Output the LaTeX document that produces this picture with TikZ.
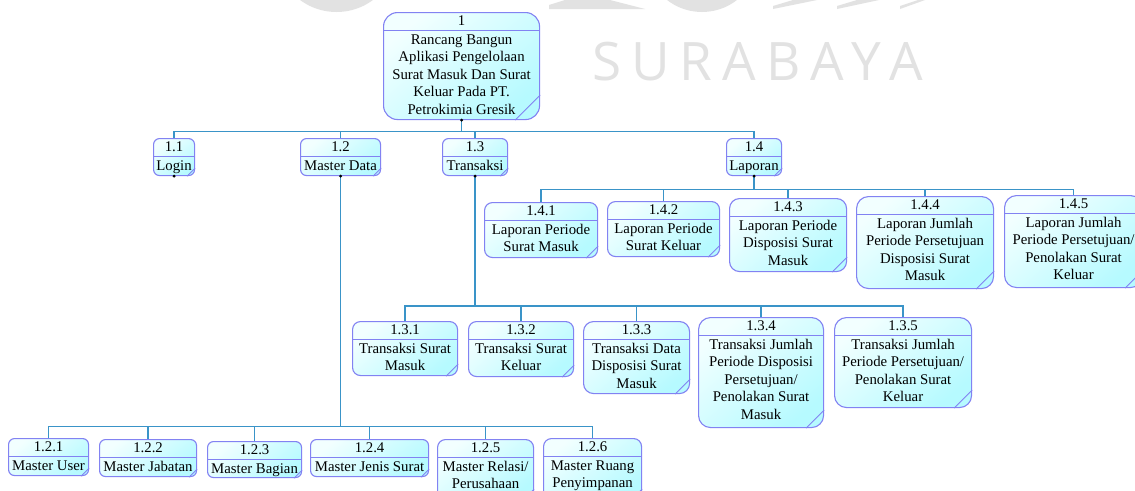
\documentclass[tikz,border=0pt]{standalone}
\usepackage{fontspec}
\setmainfont{Liberation Serif}
\newfontfamily\markfont{Open Sans}

\definecolor{boxborder}{HTML}{8282F2}
\definecolor{boxtop}{HTML}{F2FFFF}
\definecolor{boxbottom}{HTML}{B6FAFF}
\definecolor{connline}{HTML}{3A94C8}
\definecolor{markgray}{HTML}{E2E2E2}

\tikzset{
  procshape/.style={draw=boxborder, line width=1.1pt, top color=boxtop,
    bottom color=boxbottom, shading angle=40, inner sep=0pt},
  sepline/.style={draw=boxborder, line width=0.8pt},
  foldline/.style={draw=boxborder, line width=0.8pt},
  labeltext/.style={inner sep=0pt, align=center, text=black,
    font=\fontsize{14.8}{17.5}\selectfont},
  conn/.style={draw=connline, line width=1.5pt},
  joint/.style={fill=black},
  marktext/.style={text=markgray, inner sep=0pt, anchor=base,
    font=\markfont\fontsize{53}{53}\selectfont},
}

% \procbox{name}{x1}{y1}{x2}{y2}{number}{text}{fold}{radius}
% the body starts with a strut, so its top sits 12.25pt above the first baseline
\newcommand\procbox[9]{%
  \node[procshape, rounded corners=#9pt, minimum width={#4pt-#2pt},
        minimum height={#5pt-#3pt}, anchor=north west] (#1) at (#2,#3) {};
  \draw[sepline] ([yshift=-18pt]#1.north west) -- ([yshift=-18pt]#1.north east);
  \draw[foldline] ([xshift=-#8pt]#1.south east) -- ([yshift=#8pt]#1.south east);
  \node[labeltext, anchor=base] (#1-num) at ([yshift=-13.7pt]#1.north) {#6};
  \node[labeltext, anchor=north] (#1-txt) at ([yshift=-19.75pt]#1.north) {\strut #7};
}

\begin{document}
\begin{tikzpicture}[x=1pt,y=-1pt]
\useasboundingbox (0,0) rectangle (1135,490);
\clip (0,0) rectangle (1135,490);
\fill[white] (0,0) rectangle (1135,490);

% faint logo watermark along the top edge
\fill[markgray] (336.5,-49.5) circle (61.5);
\fill[markgray] (702,-45) circle (57);
\fill[markgray] (549,9) -- (549,5) -- (565,0) -- (610,0) -- (645,9) -- cycle;
\fill[markgray] (773,9) -- (773,6) -- (793,0) -- (817,0) -- cycle;
\fill[markgray] (837,9) -- (837,6) -- (857,0) -- (879,0) -- cycle;
\fill[markgray] (900,9) -- (900,6) -- (918,0) -- (925,0) -- cycle;
\foreach \ch/\cx [count=\i] in {S/607.5, U/650.5, R/696, A/739, B/784, A/827, Y/866.5, A/906.5}
  \node[marktext] (mark\i) at (\cx,80) {\ch};

% process boxes
\procbox{root}{383}{12}{539}{119}{1}{Rancang Bangun\\Aplikasi Pengelolaan\\Surat Masuk Dan Surat\\Keluar Pada PT.\\Petrokimia Gresik}{25}{14}

\procbox{p11}{153}{138}{194}{175}{1.1}{Login}{8}{6}
\procbox{p12}{300}{138}{380}{175}{1.2}{Master Data}{8}{6}
\procbox{p13}{442}{138}{507}{175}{1.3}{Transaksi}{8}{6}
\procbox{p14}{726}{138}{781}{175}{1.4}{Laporan}{8}{6}

\procbox{p141}{484}{202}{597}{257}{1.4.1}{Laporan Periode\\Surat Masuk}{12}{8}
\procbox{p142}{607}{201}{719}{256}{1.4.2}{Laporan Periode\\Surat Keluar}{12}{8}
\procbox{p143}{729}{198}{846}{271}{1.4.3}{Laporan Periode\\Disposisi Surat\\Masuk}{15}{10}
\procbox{p144}{856}{196}{993}{288}{1.4.4}{Laporan Jumlah\\Periode Persetujuan\\Disposisi Surat\\Masuk}{18}{12}
\procbox{p145}{1004}{195}{1142}{287}{1.4.5}{Laporan Jumlah\\Periode Persetujuan/\\Penolakan Surat\\Keluar}{18}{12}

\procbox{p131}{352}{321}{457}{375}{1.3.1}{Transaksi Surat\\Masuk}{12}{8}
\procbox{p132}{468}{321}{573}{376}{1.3.2}{Transaksi Surat\\Keluar}{12}{8}
\procbox{p133}{583}{321}{689}{393}{1.3.3}{Transaksi Data\\Disposisi Surat\\Masuk}{15}{10}
\procbox{p134}{698}{317}{823}{427}{1.3.4}{Transaksi Jumlah\\Periode Disposisi\\Persetujuan/\\Penolakan Surat\\Masuk}{18}{12}
\procbox{p135}{834}{317}{971}{407}{1.3.5}{Transaksi Jumlah\\Periode Persetujuan/\\Penolakan Surat\\Keluar}{18}{12}

\procbox{p121}{8}{438}{88}{475}{1.2.1}{Master User}{8}{6}
\procbox{p122}{99}{439}{196}{476}{1.2.2}{Master Jabatan}{8}{6}
\procbox{p123}{207}{441}{301}{477}{1.2.3}{Master Bagian}{8}{6}
\procbox{p124}{310}{439}{428}{476}{1.2.4}{Master Jenis Surat}{8}{6}
\procbox{p125}{437}{439}{533}{500}{1.2.5}{Master Relasi/\\Perusahaan}{12}{8}
\procbox{p126}{543}{438}{641}{500}{1.2.6}{Master Ruang\\Penyimpanan}{12}{8}

% bus levels of the hierarchy
\coordinate (busA) at (0,131.5);
\coordinate (busB) at (0,189.5);
\coordinate (busC) at (0,306);
\coordinate (busD) at (0,426.5);

% root to first level
\draw[conn] (root.south) -- (root.south |- busA);
\draw[conn] (p11.north) -- (p11.north |- busA) -- (p14.north |- busA) -- (p14.north);
\draw[conn] (p12.north) -- (p12.north |- busA);
\draw[conn] (p13.north) -- (p13.north |- busA);

% Laporan
\draw[conn] (p14.south) -- (p14.south |- busB);
\draw[conn] (p141.north) -- (p141.north |- busB) -- (p145.north |- busB) -- (p145.north);
\foreach \n in {p142,p143,p144}
  \draw[conn] (\n.north) -- (\n.north |- busB);

% Transaksi
\draw[conn] (p13.south) -- (p13.south |- busC);
\draw[conn] (p131.north) -- (p131.north |- busC) -- (p135.north |- busC) -- (p135.north);
\foreach \n in {p132,p133,p134}
  \draw[conn] (\n.north) -- (\n.north |- busC);

% Master Data
\draw[conn] (p12.south) -- (p12.south |- busD);
\draw[conn] (p121.north) -- (p121.north |- busD) -- (p126.north |- busD) -- (p126.north);
\foreach \n in {p122,p123,p124,p125}
  \draw[conn] (\n.north) -- (\n.north |- busD);

% connection points
\foreach \n in {root,p11,p12,p13,p14}
  \fill[joint] (\n.south) circle (1.6);
\end{tikzpicture}
\end{document}
